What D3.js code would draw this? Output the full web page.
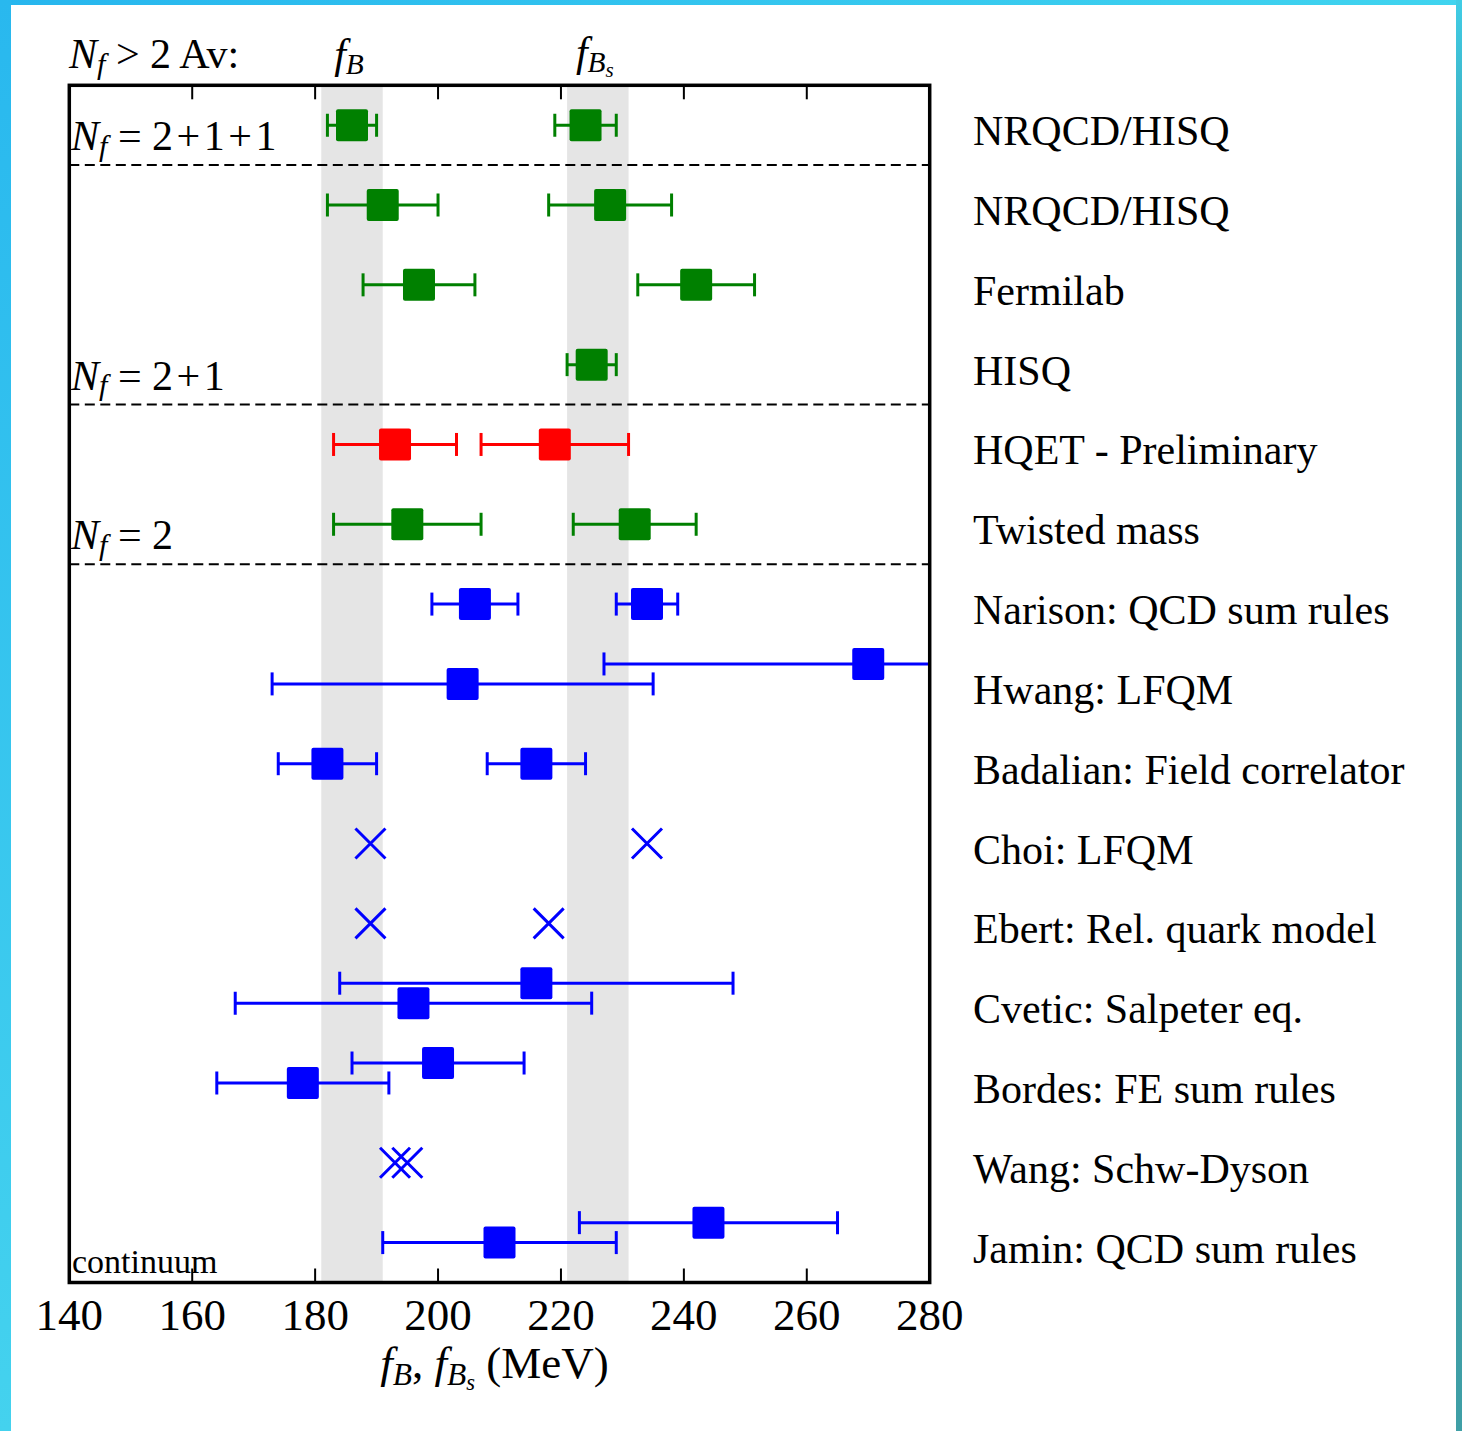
<!DOCTYPE html>
<html>
<head>
<meta charset="utf-8">
<script src="https://cdn.jsdelivr.net/npm/d3@7"></script>
<style>
    body { margin: 0; background: #fff; }
    #chart text { font-family: "Liberation Serif", "Times New Roman", serif; fill: #000; }
    #chart .it { font-style: italic; }
</style>
</head>
<body>
<div id="chart"></div>
<script>
    // rows from top to bottom
    const labels = ["NRQCD/HISQ", "NRQCD/HISQ", "Fermilab", "HISQ", "HQET - Preliminary", "Twisted mass",
        "Narison: QCD sum rules", "Hwang: LFQM", "Badalian: Field correlator", "Choi: LFQM",
        "Ebert: Rel. quark model", "Cvetic: Salpeter eq.", "Bordes: FE sum rules", "Wang: Schw-Dyson",
        "Jamin: QCD sum rules"];
    const fB = [186, 191, 196.9, null, 193, 195, 206, 204, 182, 189, 189, 196, 178, 193, 210];
    const fBErr = [4, 9, 9.1, null, 10, 12, 7, 31, 8, null, null, 29, 14, null, 19];
    const fBs = [224, 228, 242, 225, 219, 232, 234, 270, 216, 234, 218, 216, 200, 195, 244];
    const fBsErr = [5, 10, 9.5, 4, 12, 10, 5, 43, 8, null, null, 32, 14, null, 21];
    const rowColor = ["green", "green", "green", "green", "red", "green", "blue", "blue", "blue", "blue",
        "blue", "blue", "blue", "blue", "blue"];
    const rowMarker = ["s", "s", "s", "s", "s", "s", "s", "s", "s", "x", "x", "s", "s", "x", "s"];
    const fBsShift = [0, 0, 0, 0, 0, 0, 0, -0.25, 0, 0, 0, -0.25, -0.25, 0, -0.25];

    // averages (shaded bands)
    const bandFB = [181, 191];
    const bandFBs = [221, 231];

    // group separators (row boundaries) and their labels
    const groupLines = [1, 4, 6];
    const groupText = [["2+1+1", 1], ["2+1", 4], ["2", 6]];
    const xTicks = [140, 160, 180, 200, 220, 240, 260, 280];

    (function () {
        const width = 1462, height = 1431;
        const pL = 69.3, pR = 929.7, pT = 85.3, pB = 1282.5;

        const x = d3.scaleLinear().domain([140, 280]).range([pL, pR]);
        const y = d3.scaleLinear().domain([0, labels.length]).range([pT, pB]);

        const svg = d3.select("#chart").append("svg")
            .attr("width", width)
            .attr("height", height);

        // frame of the slide
        const defs = svg.append("defs");
        const gTop = defs.append("linearGradient").attr("id", "gTop");
        gTop.append("stop").attr("offset", "0").attr("stop-color", "#27b6ee");
        gTop.append("stop").attr("offset", "1").attr("stop-color", "#40d4ef");
        const gRight = defs.append("linearGradient").attr("id", "gRight")
            .attr("x1", 0).attr("y1", 0).attr("x2", 0).attr("y2", 1);
        gRight.append("stop").attr("offset", "0").attr("stop-color", "#40cde6");
        gRight.append("stop").attr("offset", "0.15").attr("stop-color", "#3a9dab");
        gRight.append("stop").attr("offset", "1").attr("stop-color", "#3f9fa6");
        const gLeft = defs.append("linearGradient").attr("id", "gLeft")
            .attr("x1", 0).attr("y1", 0).attr("x2", 0).attr("y2", 1);
        gLeft.append("stop").attr("offset", "0").attr("stop-color", "#29b8ee");
        gLeft.append("stop").attr("offset", "1").attr("stop-color", "#44d2ee");

        svg.append("rect").attr("x", 0).attr("y", 0).attr("width", width).attr("height", 5).attr("fill", "url(#gTop)");
        svg.append("rect").attr("x", 0).attr("y", 0).attr("width", 11).attr("height", height).attr("fill", "url(#gLeft)");
        svg.append("rect").attr("x", 1456).attr("y", 0).attr("width", 6).attr("height", height).attr("fill", "url(#gRight)");

        defs.append("clipPath").attr("id", "plotClip")
            .append("rect")
            .attr("x", pL).attr("y", pT)
            .attr("width", pR - pL).attr("height", pB - pT);

        const plot = svg.append("g").attr("clip-path", "url(#plotClip)");

        // bands
        plot.selectAll("rect.band")
            .data([bandFB, bandFBs])
            .enter().append("rect")
            .attr("class", "band")
            .attr("x", d => x(d[0]))
            .attr("width", d => x(d[1]) - x(d[0]))
            .attr("y", pT)
            .attr("height", pB - pT)
            .attr("fill", "#e5e5e5");

        // dashed separators
        plot.selectAll("line.sep")
            .data(groupLines)
            .enter().append("line")
            .attr("class", "sep")
            .attr("x1", pL).attr("x2", pR)
            .attr("y1", d => y(d)).attr("y2", d => y(d))
            .attr("stroke", "#000")
            .attr("stroke-width", 2)
            .attr("stroke-dasharray", "10,5.5");

        // points
        const points = [];
        labels.forEach(function (name, i) {
            if (fB[i] !== null) points.push({v: fB[i], e: fBErr[i], row: i + 0.5, color: rowColor[i], m: rowMarker[i]});
            if (fBs[i] !== null) points.push({v: fBs[i], e: fBsErr[i], row: i + 0.5 + fBsShift[i], color: rowColor[i], m: rowMarker[i]});
        });

        const withErr = points.filter(d => d.e !== null);
        const capH = 11.5;

        const gErr = plot.append("g");
        gErr.selectAll("line.bar")
            .data(withErr)
            .enter().append("line")
            .attr("x1", d => x(d.v - d.e)).attr("x2", d => x(d.v + d.e))
            .attr("y1", d => y(d.row)).attr("y2", d => y(d.row))
            .attr("stroke", d => d.color).attr("stroke-width", 3);
        gErr.selectAll("line.capl")
            .data(withErr)
            .enter().append("line")
            .attr("x1", d => x(d.v - d.e)).attr("x2", d => x(d.v - d.e))
            .attr("y1", d => y(d.row) - capH).attr("y2", d => y(d.row) + capH)
            .attr("stroke", d => d.color).attr("stroke-width", 3);
        gErr.selectAll("line.capr")
            .data(withErr)
            .enter().append("line")
            .attr("x1", d => x(d.v + d.e)).attr("x2", d => x(d.v + d.e))
            .attr("y1", d => y(d.row) - capH).attr("y2", d => y(d.row) + capH)
            .attr("stroke", d => d.color).attr("stroke-width", 3);

        const sq = 32;
        plot.selectAll("rect.marker")
            .data(points.filter(d => d.m === "s"))
            .enter().append("rect")
            .attr("class", "marker")
            .attr("x", d => x(d.v) - sq / 2)
            .attr("y", d => y(d.row) - sq / 2)
            .attr("width", sq).attr("height", sq)
            .attr("rx", 2)
            .attr("fill", d => d.color);

        const cr = 15;
        plot.selectAll("path.cross")
            .data(points.filter(d => d.m === "x"))
            .enter().append("path")
            .attr("class", "cross")
            .attr("d", function (d) {
                const cx = x(d.v), cy = y(d.row);
                return "M" + (cx - cr) + "," + (cy - cr) + "L" + (cx + cr) + "," + (cy + cr) +
                    "M" + (cx - cr) + "," + (cy + cr) + "L" + (cx + cr) + "," + (cy - cr);
            })
            .attr("stroke", d => d.color)
            .attr("stroke-width", 3)
            .attr("fill", "none");

        // ticks, inward on top and bottom
        const inner = xTicks.slice(1, -1);
        svg.selectAll("line.tickB")
            .data(inner).enter().append("line")
            .attr("x1", d => x(d)).attr("x2", d => x(d))
            .attr("y1", pB).attr("y2", pB - 14)
            .attr("stroke", "#000").attr("stroke-width", 2);
        svg.selectAll("line.tickT")
            .data(inner).enter().append("line")
            .attr("x1", d => x(d)).attr("x2", d => x(d))
            .attr("y1", pT).attr("y2", pT + 14)
            .attr("stroke", "#000").attr("stroke-width", 2);

        svg.append("rect")
            .attr("x", pL).attr("y", pT)
            .attr("width", pR - pL).attr("height", pB - pT)
            .attr("fill", "none").attr("stroke", "#000").attr("stroke-width", 3.5);

        svg.selectAll("text.tick")
            .data(xTicks).enter().append("text")
            .attr("class", "tick")
            .attr("x", d => x(d)).attr("y", 1330)
            .attr("text-anchor", "middle")
            .attr("font-size", 45)
            .text(d => d);

        // row labels
        svg.selectAll("text.row")
            .data(labels).enter().append("text")
            .attr("class", "row")
            .attr("x", 973)
            .attr("y", (d, i) => y(i + 0.5) + 20)
            .attr("font-size", 42)
            .text(d => d);

        // N_f labels
        function nfLabel(t, xx, yy, rest, size) {
            t.attr("x", xx).attr("y", yy).attr("font-size", size);
            t.append("tspan").attr("class", "it").text("N");
            t.append("tspan").attr("class", "it").attr("font-size", size * 0.72).attr("dy", size * 0.14).text("f");
            t.append("tspan").attr("dy", -size * 0.14).text(rest);
        }
        groupText.forEach(function (g) {
            nfLabel(svg.append("text"), 71, y(g[1]) - 15, " = " + g[0].split("+").join("\u200A+\u200A"), 42);
        });
        nfLabel(svg.append("text"), 69, 68, " > 2 Av:", 42);

        svg.append("text")
            .attr("x", 72).attr("y", 1273)
            .attr("font-size", 34)
            .text("continuum");

        // f_B and f_Bs headers
        function fLabel(t, s, size) {
            t.append("tspan").attr("class", "it").text("f");
            t.append("tspan").attr("class", "it").attr("font-size", size * 0.7).attr("dy", size * 0.15).text("B");
            if (s) t.append("tspan").attr("class", "it").attr("font-size", size * 0.5).attr("dy", size * 0.12).text("s");
        }
        const h1 = svg.append("text").attr("x", x(d3.mean(bandFB)) - 3).attr("y", 68)
            .attr("text-anchor", "middle").attr("font-size", 42);
        fLabel(h1, false, 42);
        const h2 = svg.append("text").attr("x", x(d3.mean(bandFBs)) - 3).attr("y", 66)
            .attr("text-anchor", "middle").attr("font-size", 42);
        fLabel(h2, true, 42);

        // x axis title
        const xt = svg.append("text").attr("x", (pL + pR) / 2 - 5).attr("y", 1378)
            .attr("text-anchor", "middle").attr("font-size", 45);
        fLabel(xt, false, 45);
        xt.append("tspan").attr("dy", -45 * 0.15).text(", ");
        fLabel(xt, true, 45);
        xt.append("tspan").attr("dy", -45 * 0.27).text(" (MeV)");
    })();
</script>
</body>
</html>
